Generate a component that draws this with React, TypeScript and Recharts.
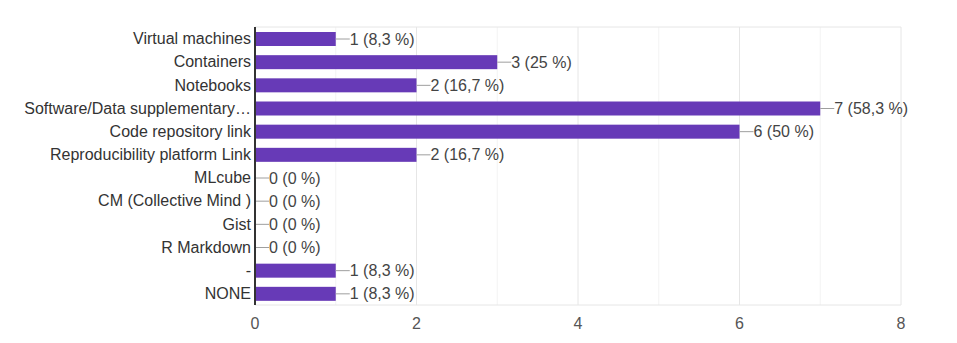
import React from 'react';
import {
  BarChart,
  Bar,
  XAxis,
  YAxis,
  CartesianGrid,
} from 'recharts';

const categories = [
  'Virtual machines',
  'Containers',
  'Notebooks',
  'Software/Data supplementary…',
  'Code repository link',
  'Reproducibility platform Link',
  'MLcube',
  'CM (Collective Mind )',
  'Gist',
  'R Markdown',
  '-',
  'NONE',
];
const counts = [1, 3, 2, 7, 6, 2, 0, 0, 0, 0, 1, 1];
const percents = ['8,3', '25', '16,7', '58,3', '50', '16,7', '0', '0', '0', '0', '8,3', '8,3'];
const xTicks = [0, 1, 2, 3, 4, 5, 6, 7, 8];

const chartData = categories.map((name, i) => ({
  name,
  count: counts[i],
  label: `${counts[i]} (${percents[i]} %)`,
}));

const FONT = '"Liberation Sans", Arial, sans-serif';
const W = 957;
const H = 343;

// bar + leader line + "n (p %)" text (drawn here so zero bars still get their label)
const BarWithLabel = (props: any) => {
  const { x, y, width, height, fill, payload } = props;
  const w = Math.max(0, Number(width) || 0);
  const x0 = Number(x) + w;
  const cy = Number(y) + Number(height) / 2;
  return (
    <g>
      {w > 0 && <rect x={x} y={y} width={w} height={height} fill={fill} />}
      <line x1={x0} y1={cy} x2={x0 + 14} y2={cy} stroke="#9e9e9e" strokeWidth={1} />
      <text
        x={x0 + 14}
        y={cy}
        dy="0.35em"
        fill="#444"
        fontSize={16}
        fontFamily={FONT}
      >
        {payload.label}
      </text>
    </g>
  );
};

const gridCoords = (offset: any, keep: (v: number) => boolean) =>
  xTicks.filter(keep).map((v) => offset.left + (offset.width * v) / 8);

const App: React.FC = () => {
  return (
    <div style={{ position: 'absolute', left: 0, top: 0, width: W, height: H, background: '#fff' }}>
      <BarChart
        width={W}
        height={H}
        data={chartData}
        layout="vertical"
        barCategoryGap={0}
        margin={{ top: 27, right: 56, left: 5, bottom: 8 }}
      >
        <CartesianGrid
          stroke="#f3f3f3"
          horizontal={false}
          verticalCoordinatesGenerator={({ offset }: any) => gridCoords(offset, (v) => v % 2 === 1)}
        />
        <CartesianGrid
          stroke="#e6e6e6"
          verticalCoordinatesGenerator={({ offset }: any) => gridCoords(offset, (v) => v % 2 === 0)}
          horizontalCoordinatesGenerator={({ offset }: any) => [offset.top, offset.top + offset.height]}
        />
        <XAxis
          type="number"
          domain={[0, 8]}
          ticks={xTicks}
          interval={0}
          tickFormatter={(v: number) => (v % 2 === 0 ? String(v) : '')}
          axisLine={false}
          tickLine={false}
          tickMargin={7}
          height={30}
          tick={{ fill: '#555', fontSize: 16, fontFamily: FONT }}
        />
        <YAxis
          type="category"
          dataKey="name"
          width={250}
          interval={0}
          tickLine={false}
          tickSize={0}
          tickMargin={4}
          axisLine={{ stroke: '#333', strokeWidth: 2 }}
          tick={{ fill: '#333', fontSize: 16, fontFamily: FONT }}
        />
        <Bar
          dataKey="count"
          fill="#673ab7"
          barSize={14}
          isAnimationActive={false}
          shape={<BarWithLabel />}
        />
      </BarChart>
    </div>
  );
};

export default App;
